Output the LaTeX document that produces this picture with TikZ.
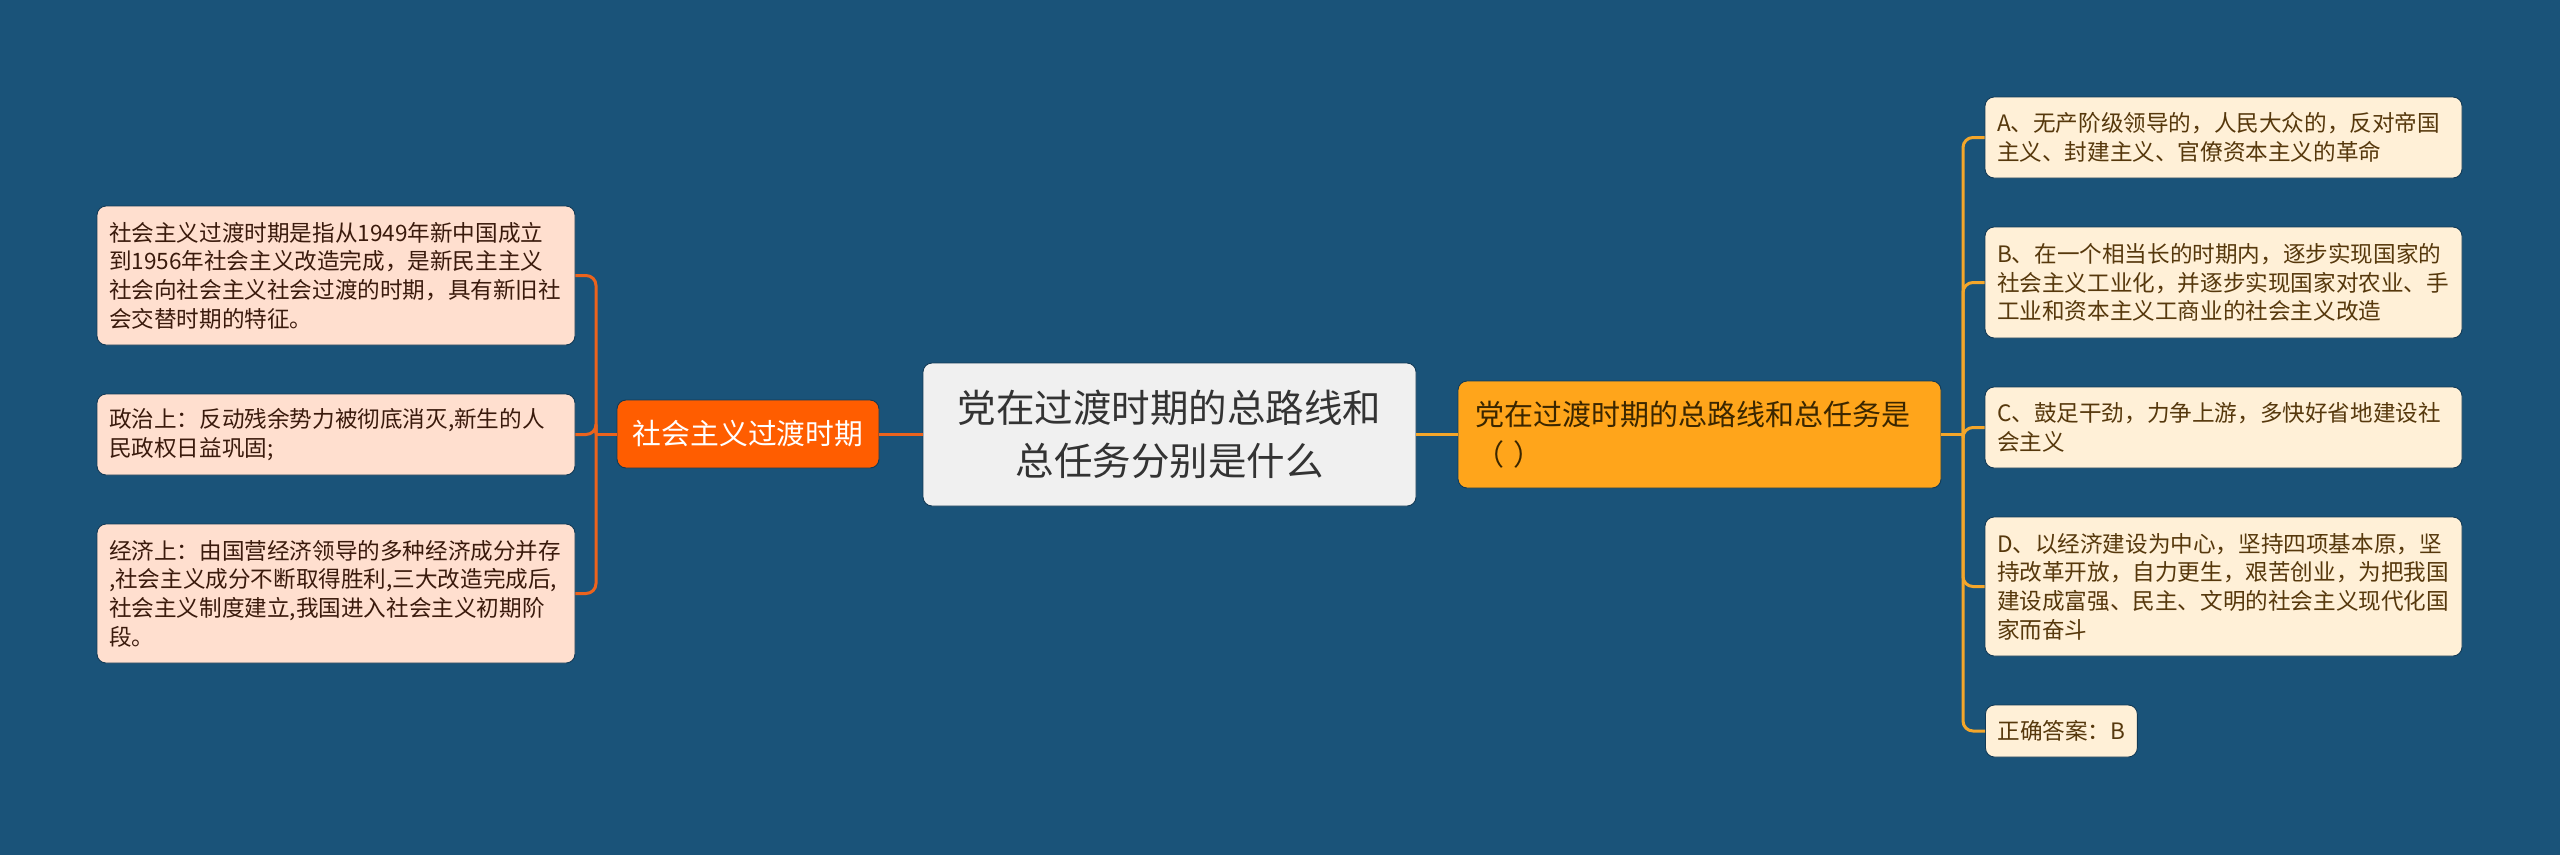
\documentclass[tikz,border=0pt]{standalone}
\usepackage{fontspec}
\setmainfont{Noto Sans CJK SC}
\definecolor{bg}{HTML}{1A5379}
\definecolor{edge}{HTML}{123A56}
\definecolor{peach}{HTML}{FFDFCF}
\definecolor{cream}{HTML}{FFF0D7}
\definecolor{centerfill}{HTML}{F0F0F0}
\definecolor{orangenode}{HTML}{FF5D00}
\definecolor{yellownode}{HTML}{FFA51B}
\definecolor{lline}{HTML}{EB631D}
\definecolor{rline}{HTML}{F4A62A}
\definecolor{ltext}{HTML}{3A1A0C}
\definecolor{rtext}{HTML}{56380C}
\definecolor{ytext}{HTML}{3A2600}
\begin{document}
\begin{tikzpicture}[x=1pt,y=-1pt,
  boxbase/.style={rounded corners=9pt, draw=edge, line width=0.9pt},
  leafbase/.style={boxbase, inner xsep=12pt, inner ysep=0pt, align=left,
    font=\fontsize{22.6pt}{28.7pt}\selectfont},
  lleaf/.style={leafbase, fill=peach, text=ltext, text width=454pt},
  rleaf/.style={leafbase, fill=cream, text=rtext, text width=453pt},
  lconn/.style={draw=lline, line width=3pt},
  rconn/.style={draw=rline, line width=3pt},
]
\useasboundingbox (0,0) rectangle (2560,855);
\fill[bg] (0,0) rectangle (2560,855);

% center
\node[boxbase, fill=centerfill, minimum width=493pt, minimum height=143pt,
  align=center, text=black!80, font=\fontsize{38.5pt}{53.5pt}\selectfont] (c) at (1169.5,434.5)
  {党在过渡时期的总路线和\\总任务分别是什么};

% main branches
\node[boxbase, fill=orangenode, minimum width=262pt, minimum height=68pt,
  text=white, font=\fontsize{28.8pt}{36pt}\selectfont] (o) at (748,434) {社会主义过渡时期};
\node[boxbase, fill=yellownode, minimum width=483pt, minimum height=107pt,
  inner xsep=17pt, text width=449pt, align=left, text=ytext,
  font=\fontsize{29pt}{40pt}\selectfont] (y) at (1699.5,434.5)
  {党在过渡时期的总路线和总任务是\\（ ）};

% left leaves
\node[lleaf, minimum height=139pt] (l1) at (336,275.5)
  {社会主义过渡时期是指从1949年新中国成立\\到1956年社会主义改造完成，是新民主主义\\社会向社会主义社会过渡的时期，具有新旧社\\会交替时期的特征。};
\node[lleaf, minimum height=81pt] (l2) at (336,434.5)
  {政治上：反动残余势力被彻底消灭,新生的人\\民政权日益巩固;};
\node[lleaf, minimum height=139pt] (l3) at (336,593.5)
  {经济上：由国营经济领导的多种经济成分并存\\,社会主义成分不断取得胜利,三大改造完成后,\\社会主义制度建立,我国进入社会主义初期阶\\段。};

% right leaves
\node[rleaf, minimum height=81pt] (ra) at (2223.5,137.5)
  {A、无产阶级领导的，人民大众的，反对帝国\\主义、封建主义、官僚资本主义的革命};
\node[rleaf, minimum height=111pt] (rb) at (2223.5,282.5)
  {B、在一个相当长的时期内，逐步实现国家的\\社会主义工业化，并逐步实现国家对农业、手\\工业和资本主义工商业的社会主义改造};
\node[rleaf, minimum height=81pt] (rc) at (2223.5,427.5)
  {C、鼓足干劲，力争上游，多快好省地建设社\\会主义};
\node[rleaf, minimum height=139pt] (rd) at (2223.5,586.5)
  {D、以经济建设为中心，坚持四项基本原，坚\\持改革开放，自力更生，艰苦创业，为把我国\\建设成富强、民主、文明的社会主义现代化国\\家而奋斗};
\node[leafbase, fill=cream, text=rtext, minimum height=52pt, anchor=west] (re) at (1985,731)
  {正确答案：B};

% connectors
\draw[lconn] (o.east) -- (o.east -| c.west);
\draw[rconn] (c.east |- y.west) -- (y.west);

\coordinate (lj) at (596,434);
\draw[lconn] (o.west) -- (lj);
\foreach \n in {l1,l2,l3}
  \draw[lconn, rounded corners=10pt] (lj) |- (\n.east);

\coordinate (rj) at (1963,434.5);
\draw[rconn] (y.east) -- (rj);
\foreach \n in {ra,rb,rc,rd,re}
  \draw[rconn, rounded corners=10pt] (rj) |- (\n.west);
\end{tikzpicture}
\end{document}
